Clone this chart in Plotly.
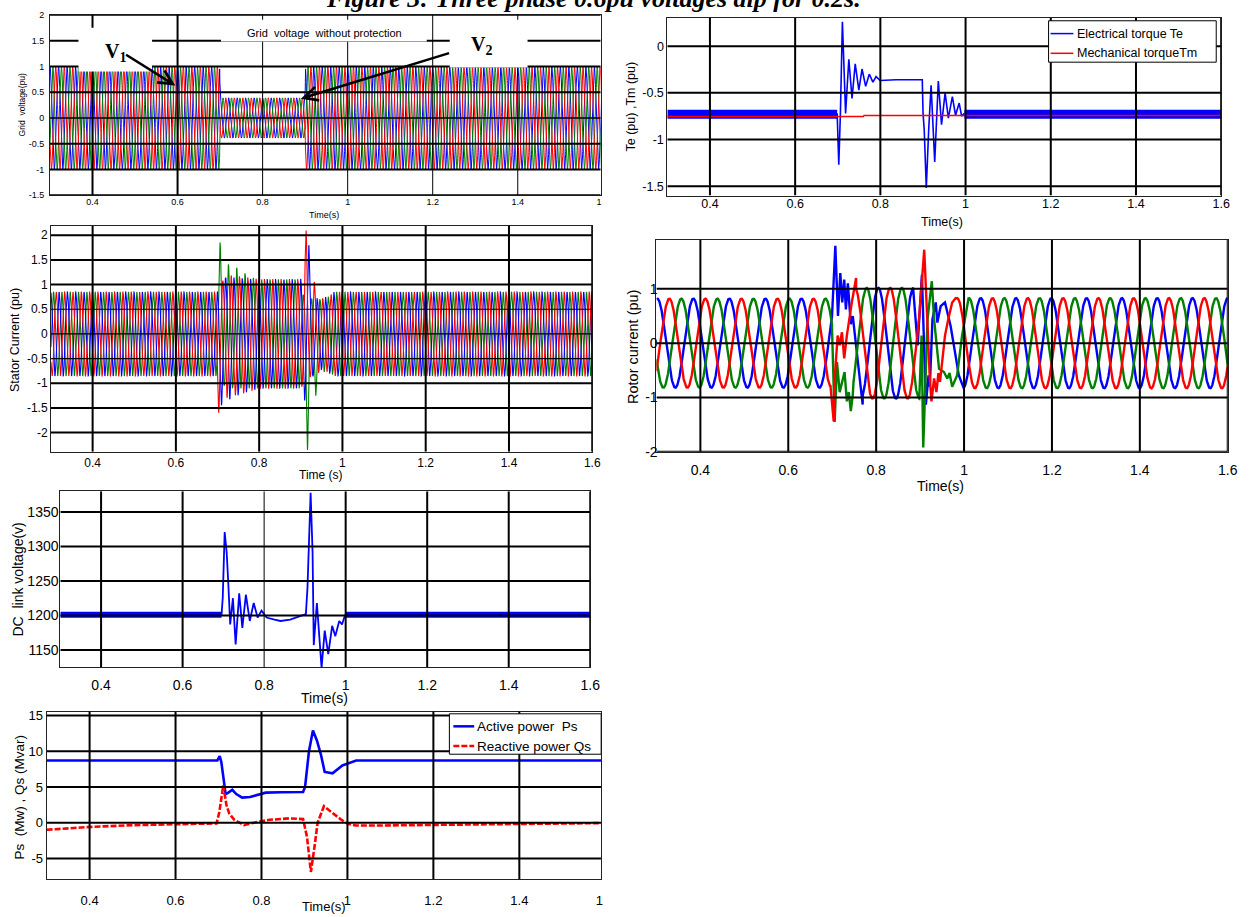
import numpy as np
import plotly.graph_objects as go

W, H = 1255, 917
BLUE, RED, GREEN = '#0000FF', '#FF0000', '#008000'
SANS = 'Liberation Sans, Arial, sans-serif'
SERIF = 'Liberation Serif, Times New Roman, serif'

# ======================= DATA =======================
# --- Grid voltage (pu): 3-phase 50 Hz, amplitude envelope
gv_freq = 50.0
gv_env_t = [0.3, 0.699, 0.700, 0.900, 0.901, 1.6]
gv_env_a = [1.0, 1.0, 0.39, 0.39, 1.0, 1.0]

# --- Electrical torque Te (pu)
te_steady = -0.73
te_tr_t = [0.6986, 0.7024, 0.7062, 0.7109, 0.7184, 0.7260, 0.7335, 0.7410, 0.7495, 0.7570,
           0.7655, 0.7740, 0.7825, 0.7900, 0.7994, 0.8370, 0.8984, 0.9002, 0.9030, 0.9078,
           0.9134, 0.9191, 0.9276, 0.9360, 0.9436, 0.9520, 0.9596, 0.9690, 0.9765, 0.9850,
           0.9907, 0.9973]
te_tr_v = [-0.72, -1.27, -0.72, 0.26, -0.72, -0.14, -0.56, -0.19, -0.47, -0.245,
           -0.43, -0.30, -0.385, -0.326, -0.368, -0.36, -0.36, -0.72, -0.90, -1.52,
           -0.90, -0.42, -1.24, -0.375, -0.84, -0.50, -0.77, -0.54, -0.74, -0.61,
           -0.75, -0.72]
tm_t = [0.3, 0.760, 0.762, 1.6]
tm_v = [-0.753, -0.753, -0.742, -0.742]

# --- Stator current (pu): 50 Hz, per-phase positive / negative peak envelopes
st_freq = 50.0
st_green_peak = 0.706
st_green_pos_t = [0.3, 0.699, 0.706, 0.720, 0.740, 0.760, 0.780, 0.800, 0.899, 0.905, 0.930, 0.960, 0.980, 1.6]
st_green_pos_a = [0.85, 0.85, 1.85, 1.42, 1.38, 1.25, 1.15, 1.10, 1.10, 0.80, 0.70, 0.70, 0.85, 0.85]
st_green_neg_t = [0.3, 0.699, 0.720, 0.750, 0.899, 0.916, 0.926, 0.936, 0.950, 0.970, 0.985, 1.6]
st_green_neg_a = [0.85, 0.85, 1.10, 1.10, 1.10, 2.35, 1.40, 1.25, 0.75, 0.80, 0.85, 0.85]
st_red_pos_t = [0.3, 0.699, 0.720, 0.760, 0.800, 0.899, 0.9127, 0.920, 0.930, 0.940, 0.960, 0.980, 1.6]
st_red_pos_a = [0.85, 0.85, 1.20, 1.15, 1.10, 1.10, 2.10, 1.30, 1.15, 0.75, 0.70, 0.85, 0.85]
st_red_neg_t = [0.3, 0.699, 0.7027, 0.720, 0.760, 0.800, 0.899, 0.910, 0.930, 0.960, 0.980, 1.6]
st_red_neg_a = [0.85, 0.85, 1.60, 1.30, 1.20, 1.10, 1.10, 1.00, 0.80, 0.75, 0.85, 0.85]
st_blue_pos_t = [0.3, 0.699, 0.720, 0.800, 0.899, 0.9193, 0.928, 0.940, 0.960, 0.980, 1.6]
st_blue_pos_a = [0.85, 0.85, 1.15, 1.10, 1.10, 1.80, 1.00, 0.70, 0.75, 0.85, 0.85]
st_blue_neg_t = [0.3, 0.699, 0.7093, 0.730, 0.760, 0.800, 0.899, 0.9093, 0.920, 0.940, 0.960, 0.980, 1.6]
st_blue_neg_a = [0.85, 0.85, 1.45, 1.32, 1.20, 1.10, 1.10, 1.35, 1.00, 0.70, 0.75, 0.85, 0.85]

# --- Rotor current (pu): slip-frequency currents, segment amplitude / period / blue-peak time
rot_seg_start = [0.3, 0.7, 0.9]
rot_seg_amp = [0.82, 1.02, 0.83]
rot_seg_period = [0.082, 0.080, 0.0803]
rot_seg_blue_peak = [0.302, 0.805, 1.038]
# hand-read transient points
rot_blue_w1_t = [0.6996, 0.7071, 0.7109, 0.7131, 0.7184, 0.7228, 0.7273, 0.7311, 0.7356, 0.7423, 0.7468, 0.7596, 0.7693]
rot_blue_w1_v = [0.50, 1.79, 1.05, 0.50, 1.29, 0.75, 1.17, 0.62, 1.10, 0.35, 0.50, -0.47, -1.13]
rot_red_w1_t = [0.6959, 0.7034, 0.7056, 0.7124, 0.7169, 0.7221, 0.7273, 0.7333, 0.7446, 0.7543]
rot_red_w1_v = [-0.77, -1.44, -0.65, 0.14, -0.04, 0.20, -0.28, 0.14, 0.75, 1.20]
rot_green_w1_t = [0.6996, 0.7034, 0.7056, 0.7109, 0.7169, 0.7281, 0.7333, 0.7378, 0.7423, 0.7468]
rot_green_w1_v = [0.26, -0.60, -1.45, -0.35, -0.90, -0.53, -1.07, -0.90, -1.25, -0.95]
rot_blue_w2_t = [0.8846, 0.8944, 0.9041, 0.9131, 0.9191, 0.9221, 0.9281, 0.9356, 0.9393, 0.9468, 0.9566, 0.9618, 0.9693, 0.9768, 0.9880, 0.9993]
rot_blue_w2_v = [0.96, -0.04, 1.26, -1.13, -0.59, -0.80, 0.44, 0.75, 0.38, 0.68, 0.75, 0.57, 0.32, -0.04, -0.59, -0.83]
rot_red_w2_t = [0.8981, 0.9094, 0.9131, 0.9169, 0.9221, 0.9258, 0.9318, 0.9371, 0.9416, 0.9453, 0.9506, 0.9566, 0.9640, 0.9730, 0.9820]
rot_red_w2_v = [0.50, 1.72, 1.00, 0.14, -0.65, -1.07, -0.65, -0.90, -0.55, -0.71, -0.28, 0.14, 0.44, 0.75, 0.84]
rot_green_w2_t = [0.8981, 0.9034, 0.9071, 0.9169, 0.9266, 0.9318, 0.9371, 0.9431, 0.9543, 0.9618, 0.9670, 0.9730, 0.9843, 0.9955, 1.0105]
rot_green_w2_v = [-1.01, 0.14, -1.92, 0.44, 1.14, 0.44, -0.04, -0.47, -0.53, -0.65, -0.55, -0.80, -0.59, 0.14, 0.84]

# --- DC link voltage (V)
dc_steady = 1201.0
dc_tr_t = [0.6955, 0.6984, 0.7032, 0.7080, 0.7118, 0.7167, 0.7234, 0.7301, 0.7388, 0.7465,
           0.7552, 0.7648, 0.7744, 0.7840, 0.7936, 0.8062, 0.8254, 0.8398, 0.8639, 0.8928,
           0.9024, 0.9063, 0.9140, 0.9188, 0.9217, 0.9294, 0.9342, 0.9409, 0.9486, 0.9573,
           0.9669, 0.9746, 0.9842, 0.9910, 0.9987]
dc_tr_v = [1201, 1225, 1321, 1292, 1250, 1187, 1225, 1158, 1232, 1182,
           1230, 1192, 1218, 1197, 1207, 1197, 1194, 1192, 1194, 1200,
           1202, 1240, 1378, 1292, 1157, 1218, 1175, 1124, 1178, 1144,
           1185, 1170, 1192, 1187, 1201]

# --- Active / reactive stator power
ps_t = [0.3, 0.45, 0.6, 0.6973, 0.7028, 0.7065, 0.7120, 0.7166, 0.7230, 0.7321, 0.7413, 0.7550,
        0.7733, 0.7916, 0.8099, 0.8465, 0.8968, 0.9014, 0.9105, 0.9197, 0.9289, 0.9380,
        0.9471, 0.9654, 0.9883, 1.0203, 1.2, 1.4, 1.6]
ps_v = [8.7, 8.75, 8.7, 8.7, 9.3, 8.5, 6.2, 4.0, 4.2, 4.6, 4.0, 3.5,
        3.6, 3.95, 4.2, 4.25, 4.3, 5.0, 10.0, 12.9, 11.5, 9.6,
        7.1, 6.9, 8.0, 8.7, 8.7, 8.7, 8.7]
qs_t = [0.3, 0.4, 0.5, 0.6, 0.6955, 0.7019, 0.7111, 0.7184, 0.7248, 0.7367, 0.7596, 0.7824,
        0.8190, 0.8648, 0.8968, 0.9059, 0.9150, 0.9242, 0.9306, 0.9453, 0.9563, 0.9700,
        0.9837, 1.0020, 1.0203, 1.0660, 1.1941, 1.3314, 1.4686, 1.6]
qs_v = [-1.0, -0.6, -0.35, -0.2, -0.1, 1.5, 5.2, 2.5, 1.3, 0.4, -0.35, 0.0,
        0.4, 0.6, 0.5, -2.0, -6.9, -3.0, 0.0, 2.3, 1.8, 1.2,
        0.5, -0.2, -0.4, -0.4, -0.3, -0.15, -0.05, -0.05]

# ======================= HELPERS =======================
def carrier(t, period, t_peak):
    return np.cos(2 * np.pi * (t - t_peak) / period)


def env_wave(t, period, t_peak, pos_t, pos_a, neg_t, neg_a):
    c = carrier(t, period, t_peak)
    return np.where(c >= 0, c * np.interp(t, pos_t, pos_a), c * np.interp(t, neg_t, neg_a))


def rotor_phase(t, k, windows):
    v = np.zeros_like(t)
    for i, t0 in enumerate(rot_seg_start):
        t1 = rot_seg_start[i + 1] if i + 1 < len(rot_seg_start) else 10
        m = (t >= t0) & (t < t1)
        per = rot_seg_period[i]
        v[m] = rot_seg_amp[i] * carrier(t[m], per, rot_seg_blue_peak[i] + k * per / 3)
    keep = np.ones_like(t, dtype=bool)
    for wt, wv in windows:
        keep &= (t < wt[0]) | (t > wt[-1])
    tt = np.concatenate([t[keep]] + [np.array(wt) for wt, _ in windows])
    vv = np.concatenate([v[keep]] + [np.array(wv) for _, wv in windows])
    o = np.argsort(tt)
    return tt[o], vv[o]


fig = go.Figure()

# ---------- Panel A: grid voltage ----------
t_fast = np.arange(0.3, 1.6001, 0.00025)
gv_amp = np.interp(t_fast, gv_env_t, gv_env_a)
for k, col in enumerate([BLUE, GREEN, RED]):
    fig.add_trace(go.Scatter(x=t_fast, y=gv_amp * carrier(t_fast, 1 / gv_freq, 0.3 + k / (3 * gv_freq)),
                             mode='lines', line=dict(color=col, width=1), showlegend=False,
                             xaxis='x', yaxis='y', hoverinfo='skip'))

# ---------- Panel B: torque ----------
fig.add_trace(go.Scatter(x=[0.3, te_tr_t[0]], y=[te_steady, te_steady], mode='lines',
                         line=dict(color=BLUE, width=9), showlegend=False, xaxis='x2', yaxis='y2'))
fig.add_trace(go.Scatter(x=[te_tr_t[-1], 1.6], y=[te_steady, te_steady], mode='lines',
                         line=dict(color=BLUE, width=9), showlegend=False, xaxis='x2', yaxis='y2'))
fig.add_trace(go.Scatter(x=te_tr_t, y=te_tr_v, mode='lines', line=dict(color=BLUE, width=1.6),
                         showlegend=False, xaxis='x2', yaxis='y2'))
fig.add_trace(go.Scatter(x=tm_t, y=tm_v, mode='lines', line=dict(color=RED, width=1.5),
                         showlegend=False, xaxis='x2', yaxis='y2'))

# ---------- Panel C: stator current ----------
st_per = 1 / st_freq
st_phases = [
    (GREEN, st_green_peak, st_green_pos_t, st_green_pos_a, st_green_neg_t, st_green_neg_a),
    (BLUE, st_green_peak + 2 * st_per / 3, st_blue_pos_t, st_blue_pos_a, st_blue_neg_t, st_blue_neg_a),
    (RED, st_green_peak + st_per / 3, st_red_pos_t, st_red_pos_a, st_red_neg_t, st_red_neg_a),
]
for col, tp, pt, pa, nt, na in st_phases:
    fig.add_trace(go.Scatter(x=t_fast, y=env_wave(t_fast, st_per, tp, pt, pa, nt, na), mode='lines',
                             line=dict(color=col, width=1.1), showlegend=False,
                             xaxis='x3', yaxis='y3', hoverinfo='skip'))

# ---------- Panel D: rotor current ----------
t_rot = np.arange(0.3, 1.6001, 0.0005)
rot_sets = [
    (BLUE, 0, [(rot_blue_w1_t, rot_blue_w1_v), (rot_blue_w2_t, rot_blue_w2_v)]),
    (GREEN, 2, [(rot_green_w1_t, rot_green_w1_v), (rot_green_w2_t, rot_green_w2_v)]),
    (RED, 1, [(rot_red_w1_t, rot_red_w1_v), (rot_red_w2_t, rot_red_w2_v)]),
]
for col, k, wins in rot_sets:
    tt, vv = rotor_phase(t_rot, k, wins)
    fig.add_trace(go.Scatter(x=tt, y=vv, mode='lines', line=dict(color=col, width=2.4),
                             showlegend=False, xaxis='x4', yaxis='y4', hoverinfo='skip'))

# ---------- Panel E: DC link ----------
fig.add_trace(go.Scatter(x=[0.3, dc_tr_t[0]], y=[dc_steady, dc_steady], mode='lines',
                         line=dict(color=BLUE, width=6), showlegend=False, xaxis='x5', yaxis='y5'))
fig.add_trace(go.Scatter(x=[dc_tr_t[-1], 1.6], y=[dc_steady, dc_steady], mode='lines',
                         line=dict(color=BLUE, width=6), showlegend=False, xaxis='x5', yaxis='y5'))
fig.add_trace(go.Scatter(x=dc_tr_t, y=dc_tr_v, mode='lines', line=dict(color=BLUE, width=1.8),
                         showlegend=False, xaxis='x5', yaxis='y5'))

# ---------- Panel F: power ----------
fig.add_trace(go.Scatter(x=ps_t, y=ps_v, mode='lines', line=dict(color=BLUE, width=2.6),
                         showlegend=False, xaxis='x6', yaxis='y6'))
fig.add_trace(go.Scatter(x=qs_t, y=qs_v, mode='lines', line=dict(color=RED, width=2.6, dash='6px,2px'),
                         showlegend=False, xaxis='x6', yaxis='y6'))

# ======================= LAYOUT =======================
def fx(p):
    return p / W


def fy(p):
    return 1 - p / H


def hy(v):
    return f'{v:g}'.replace('\u2212', '-')


xt_full = [0.4, 0.6, 0.8, 1.0, 1.2, 1.4, 1.6]
xt_cut = [0.4, 0.6, 0.8, 1.0, 1.2, 1.4]

panels = [
    dict(n='', xd=(50.4, 605.5), yd=(10, 193), xr=(0.3, 1.595), yr=(-1.5, 2.0),
         yt=[-1.5, -1, -0.5, 0, 0.5, 1, 1.5, 2], xt=xt_cut, edge='1', fs=9, xs=-2, ys=3),
    dict(n='2', xd=(672.7, 1231), yd=(13.3, 193.3), xr=(0.3, 1.6), yr=(-1.6, 0.3),
         yt=[-1.5, -1, -0.5, 0], xt=xt_full, edge=None, fs=12.5, xs=-4, ys=0),
    dict(n='3', xd=(51.4, 597), yd=(224, 453.3), xr=(0.3, 1.6), yr=(-2.39, 2.19),
         yt=[-2, -1.5, -1, -0.5, 0, 0.5, 1, 1.5, 2], xt=xt_full, edge=None, fs=12, xs=0, ys=0),
    dict(n='4', xd=(661.7, 1237.6), yd=(238.3, 453.3), xr=(0.3, 1.6), yr=(-2, 1.9),
         yt=[-2, -1, 0, 1], xt=xt_full, edge=None, fs=14, xs=5, ys=-5),
    dict(n='5', xd=(60.8, 595), yd=(493.3, 671.7), xr=(0.3, 1.6), yr=(1125, 1380),
         yt=[1150, 1200, 1250, 1300, 1350], xt=xt_full, edge=None, fs=14, xs=5, ys=-2),
    dict(n='6', xd=(47, 605.8), yd=(716.7, 886.7), xr=(0.3, 1.59), yr=(-7.9, 15.55),
         yt=[-5, 0, 5, 10, 15], xt=xt_cut, edge='1', fs=13, xs=9, ys=0),
]

layout = dict(width=W, height=H, margin=dict(l=0, r=0, t=0, b=0), paper_bgcolor='white',
              plot_bgcolor='white', showlegend=False)
shapes = []
for p in panels:
    n = p['n']
    xa = dict(domain=[fx(p['xd'][0]), fx(p['xd'][1])], range=list(p['xr']), anchor='y' + n,
              showgrid=False, zeroline=False, showline=True, mirror=True, linecolor='#222',
              linewidth=1, ticks='', ticklen=0, tickvals=list(p['xt']) + ([p['xr'][1] - 0.004] if p['edge'] else []),
              ticktext=[hy(v) for v in p['xt']] + ([p['edge']] if p['edge'] else []),
              tickfont=dict(family=SANS, size=p['fs'], color='black'), ticklabelstandoff=p['xs'],
              fixedrange=True)
    ya = dict(domain=[fy(p['yd'][1]), fy(p['yd'][0])], range=list(p['yr']), anchor='x' + n,
              showgrid=False, zeroline=False, showline=True, mirror=True, linecolor='#222',
              linewidth=1, ticks='', ticklen=0, tickvals=p['yt'], ticktext=[hy(v) for v in p['yt']],
              tickfont=dict(family=SANS, size=p['fs'], color='black'), ticklabelstandoff=p['ys'],
              fixedrange=True)
    layout['xaxis' + n] = xa
    layout['yaxis' + n] = ya
    xref, yref = 'x' + n, 'y' + n
    for v in p['xt']:
        w = 2
        if n == '' and v >= 0.8:
            w = 1
        if n == '5' and abs(v - 0.8) < 1e-9:
            w = 1
        shapes.append(dict(type='line', xref=xref, yref=yref, x0=v, x1=v, y0=p['yr'][0], y1=p['yr'][1],
                           line=dict(color='black', width=w), layer='above'))
    for v in p['yt']:
        w = 2
        if n == '3' and abs(v) <= 0.5:
            w = 1.2
        if n == '' and abs(v) < 1e-9:
            w = 1.5
        shapes.append(dict(type='line', xref=xref, yref=yref, y0=v, y1=v, x0=p['xr'][0], x1=p['xr'][1],
                           line=dict(color='black', width=w), layer='above'))

# white label boxes in panel A
for x0, x1, y0, y1 in [(0.367, 0.540, 0.90, 1.75), (0.702, 1.186, 1.484, 1.904), (1.240, 1.423, 0.98, 1.904)]:
    shapes.append(dict(type='rect', xref='x', yref='y', x0=x0, x1=x1, y0=y0, y1=y1,
                       fillcolor='white', line=dict(width=0), layer='above'))

annotations = []


def txt(x, y, s, size, family=SANS, angle=0, xanchor='center', yanchor='middle', **kw):
    annotations.append(dict(x=fx(x), y=fy(y), xref='paper', yref='paper', text=s, showarrow=False,
                            font=dict(family=family, size=size, color='black'), textangle=angle,
                            xanchor=xanchor, yanchor=yanchor, **kw))


# axis titles
txt(22, 101, 'Grid&nbsp; voltage(pu)', 8.5, angle=-90)
txt(327, 213, 'Time(s)', 9)
txt(636, 103, 'Te (pu) ,Tm (pu)', 12.5, angle=-90)
txt(950, 220, 'Time(s)', 12.5)
txt(15, 340, 'Stator Current (pu)', 12.5, angle=-90)
txt(324, 477, 'Time (s)', 12)
txt(638, 347, 'Rotor current (pu)', 14.5, angle=-90)
txt(948, 488, 'Time(s)', 14)
txt(18, 583, 'DC&nbsp; link voltage(v)', 14, angle=-90)
txt(327, 703, 'Time(s)', 14)
txt(20, 803, 'Ps&nbsp; (Mw) , Qs (Mvar)', 13.5, angle=-90)
txt(327, 914, 'Time(s)', 13)

# panel A labels and arrows
txt(327, 28, 'Grid\u00a0\u00a0voltage\u00a0\u00a0without protection', 11)
txt(116, 48, '<b>V<sub>1</sub></b>', 20, family=SERIF)
txt(485, 41, '<b>V<sub>2</sub></b>', 20, family=SERIF)
for tip, tail in [((176.7, 81.7), (126, 50)), ((303.3, 95), (453, 49))]:
    annotations.append(dict(x=fx(tip[0]), y=fy(tip[1]), xref='paper', yref='paper', text='',
                            showarrow=True, arrowhead=5, arrowsize=1.1, arrowwidth=2.5,
                            arrowcolor='black', ax=tail[0] - tip[0], ay=tail[1] - tip[1]))

# figure caption (cropped at top)
annotations.append(dict(x=fx(598), y=fy(-7), xref='paper', yref='paper',
                        text='<b><i>Figure 3: Three phase 0.6pu voltages dip for 0.2s.</i></b>',
                        showarrow=False, font=dict(family=SERIF, size=26, color='black'),
                        xanchor='center', yanchor='middle'))


# manual legends
def legend_box(x0, x1, y0, y1, items, size, sx0, sx1, tx):
    shapes.append(dict(type='rect', xref='paper', yref='paper', x0=fx(x0), x1=fx(x1), y0=fy(y1), y1=fy(y0),
                       fillcolor='white', line=dict(color='black', width=1), layer='above'))
    for yy, col, dash, lw, label in items:
        shapes.append(dict(type='line', xref='paper', yref='paper', x0=fx(sx0), x1=fx(sx1), y0=fy(yy), y1=fy(yy),
                           line=dict(color=col, width=lw, dash=dash), layer='above'))
        txt(tx, yy, label, size, xanchor='left')


legend_box(1057, 1226, 16, 58, [(29, BLUE, 'solid', 1.5, 'Electrical torque Te'),
                                (49, RED, 'solid', 1.5, 'Mechanical torqueTm')], 12.5, 1059, 1082, 1084)
legend_box(453, 606, 719, 760, [(731.7, BLUE, 'solid', 2.5, 'Active power&nbsp; Ps'),
                                (751.7, RED, '6px,2px', 2.5, 'Reactive power Qs')], 13.5, 457, 478, 479)

layout['shapes'] = shapes
layout['annotations'] = annotations
fig.update_layout(**layout)
fig.write_html('out.html', config={'displayModeBar': False},
               post_script="document.body.style.margin='0';document.body.style.padding='0';")
